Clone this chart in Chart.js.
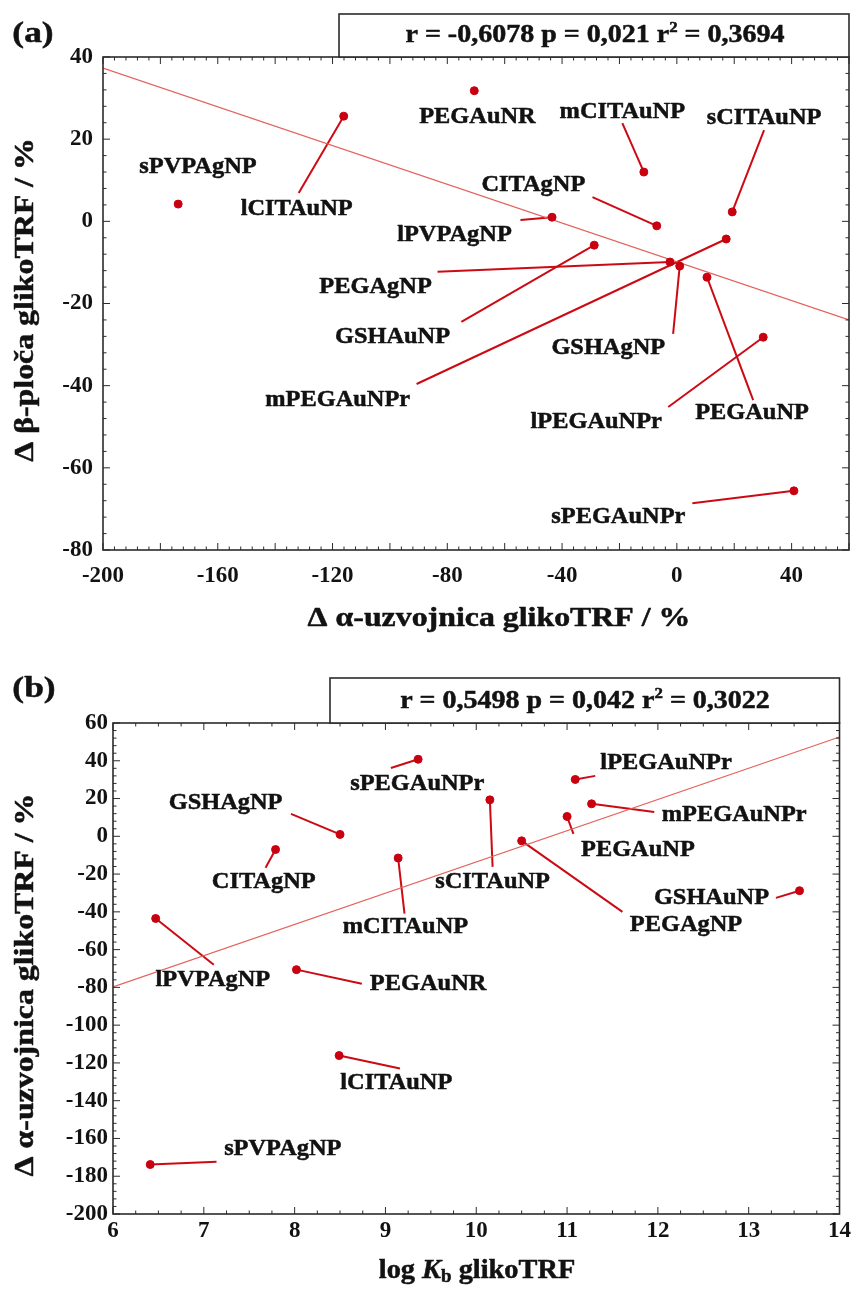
<!DOCTYPE html>
<html>
<head>
<meta charset="utf-8">
<script src="https://cdn.jsdelivr.net/npm/chart.js@4.4.1/dist/chart.umd.min.js"></script>
<style>
html, body { margin: 0; padding: 0; background: #fff; }
#wrap { position: relative; width: 854px; height: 1295px; }
canvas { position: absolute; left: 0; }
#chartA { top: 0; }
#chartB { top: 650px; }
</style>
</head>
<body>
<div id="wrap">
  <canvas id="chartA" width="854" height="650"></canvas>
  <canvas id="chartB" width="854" height="645"></canvas>
</div>
<script>
// Nanoparticle samples and measured changes
const samples = ['sPVPAgNP', 'lCITAuNP', 'PEGAuNR', 'mCITAuNP', 'sCITAuNP', 'CITAgNP', 'lPVPAgNP',
                 'GSHAuNP', 'mPEGAuNPr', 'PEGAgNP', 'GSHAgNP', 'PEGAuNP', 'lPEGAuNPr', 'sPEGAuNPr'];
const dAlpha = [-173.8, -116.1, -70.6, -11.5, 19.3, -7.0, -43.5, -28.8, 17.2, -2.4, 1.0, 10.5, 30.1, 40.8];
const dBeta  = [4.2, 25.6, 31.8, 12.0, 2.3, -1.1, 1.0, -5.8, -4.3, -9.9, -10.9, -13.6, -28.2, -65.6];
const logKb  = [6.41, 8.49, 8.02, 9.14, 10.15, 7.79, 6.47, 13.56, 11.27, 10.5, 8.5, 11.0, 11.09, 9.36];

// regression lines (end points)
const trendAX = [-200, 60];
const trendAY = [37.3, -24.0];
const trendBX = [6, 14];
const trendBY = [-79.7, 52.6];

// label anchors (data units) and leader line ends, panel (a)
const labAX  = [-166.9, -132.5, -69.5, -19.0, 30.4, -50.0, -77.5, -99.1, -118.2, -105.0, -23.9, 26.2, -28.1, -20.4];
const labAY  = [13.2, 3.0, 25.4, 26.6, 25.1, 8.8, -3.3, -28.2, -43.6, -16.0, -30.8, -46.7, -48.9, -72.0];
const leadAX = [null, -131.8, null, -19.0, 30.4, -29.4, -54.5, -75.1, -90.7, -83.4, -1.3, 26.6, -3.0, 5.4];
const leadAY = [null, 6.9, null, 23.9, 22.2, 5.9, 0.3, -24.5, -39.6, -12.3, -27.4, -43.5, -45.2, -68.6];

// panel (b)
const labBX  = [7.87, 9.12, 9.47, 9.22, 10.18, 7.66, 7.10, 12.59, 12.84, 12.31, 7.24, 11.78, 12.09, 9.35];
const labBY  = [-165.4, -130.5, -78.1, -47.9, -24.1, -24.1, -76.0, -32.6, 11.3, -46.9, 17.7, -7.2, 38.8, 27.7];
const leadBX = [7.14, 9.16, 8.74, 9.21, 10.18, 7.68, 7.11, 13.30, 11.96, 11.61, 7.96, 11.07, 11.31, 9.06];
const leadBY = [-172.3, -123.0, -78.1, -41.0, -16.2, -16.6, -68.0, -32.6, 12.9, -40.0, 11.9, 1.3, 32.0, 36.2];

const FONT = '"Liberation Serif", "Times New Roman", serif';
const INK = '#121212';
const DOT = '#c8000f';
const LEAD = '#cc0a14';
const TREND = '#e4625c';

function drawRuns(ctx, runs, cx, cy, sx, rot) {
    ctx.save();
    ctx.translate(cx, cy);
    if (rot) ctx.rotate(-Math.PI / 2);
    ctx.scale(sx, 1);
    ctx.textBaseline = 'middle';
    ctx.textAlign = 'left';
    ctx.fillStyle = INK;
    ctx.strokeStyle = INK;
    ctx.lineWidth = 0.5;
    ctx.lineJoin = 'round';
    let total = 0;
    runs.forEach(r => { ctx.font = r.font; total += ctx.measureText(r.t).width; });
    let x = -total / 2;
    runs.forEach(r => {
        ctx.font = r.font;
        ctx.fillText(r.t, x, r.dy || 0);
        ctx.strokeText(r.t, x, r.dy || 0);
        x += ctx.measureText(r.t).width;
    });
    ctx.restore();
}

function decorPlugin(cfg) {
    return {
        id: 'decor' + cfg.id,
        beforeDatasetsDraw(chart) {
            const { ctx, scales: { x, y } } = chart;
            // leader lines
            ctx.save();
            ctx.strokeStyle = LEAD;
            ctx.lineWidth = 2;
            cfg.xs.forEach((v, i) => {
                if (cfg.leadX[i] === null) return;
                ctx.beginPath();
                ctx.moveTo(x.getPixelForValue(v), y.getPixelForValue(cfg.ys[i]));
                ctx.lineTo(x.getPixelForValue(cfg.leadX[i]), y.getPixelForValue(cfg.leadY[i]));
                ctx.stroke();
            });
            ctx.restore();
        },
        afterDraw(chart) {
            const { ctx, chartArea: a, scales: { x, y } } = chart;
            ctx.save();
            // point labels
            cfg.labX.forEach((v, i) => {
                drawRuns(ctx, [{ t: cfg.names[i], font: 'bold 23px ' + FONT }],
                    x.getPixelForValue(v), y.getPixelForValue(cfg.labY[i]), 1.06, false);
            });

            // frame and inward ticks
            ctx.strokeStyle = '#2b2b2b';
            ctx.lineWidth = 1.6;
            ctx.strokeRect(a.left, a.top, a.right - a.left, a.bottom - a.top);
            ctx.lineWidth = 1;
            const eps = 1e-6;
            for (let v = x.min; v <= x.max + eps; v += cfg.xMinor) {
                const p = x.getPixelForValue(v);
                const major = Math.abs(v / cfg.xMajor - Math.round(v / cfg.xMajor)) < 1e-4;
                const len = major ? 7 : 3.5;
                ctx.beginPath();
                ctx.moveTo(p, a.bottom); ctx.lineTo(p, a.bottom - len);
                ctx.moveTo(p, a.top); ctx.lineTo(p, a.top + len);
                ctx.stroke();
            }
            for (let v = y.min; v <= y.max + eps; v += cfg.yMinor) {
                const p = y.getPixelForValue(v);
                const major = Math.abs(v / cfg.yMajor - Math.round(v / cfg.yMajor)) < 1e-4;
                const len = major ? 7 : 3.5;
                ctx.beginPath();
                ctx.moveTo(a.left, p); ctx.lineTo(a.left + len, p);
                ctx.moveTo(a.right, p); ctx.lineTo(a.right - len, p);
                ctx.stroke();
            }

            // statistics box
            ctx.fillStyle = '#fff';
            ctx.fillRect(cfg.boxLeft, cfg.boxTop, a.right - cfg.boxLeft, a.top - cfg.boxTop);
            ctx.strokeStyle = '#2b2b2b';
            ctx.lineWidth = 1.6;
            ctx.strokeRect(cfg.boxLeft, cfg.boxTop, a.right - cfg.boxLeft, a.top - cfg.boxTop);
            const sf = 'bold 25px ' + FONT;
            drawRuns(ctx, [
                { t: cfg.stats[0], font: sf },
                { t: '2', font: 'bold 15px ' + FONT, dy: -8 },
                { t: cfg.stats[1], font: sf }
            ], cfg.statsX, cfg.statsY, 1.12, false);

            // panel letter and axis titles
            drawRuns(ctx, [{ t: cfg.panel, font: 'bold 30px ' + FONT }], cfg.panelX, cfg.panelY, 1.18, false);
            drawRuns(ctx, cfg.xTitle, cfg.xTitleX, cfg.xTitleY, cfg.xTitleStretch, false);
            drawRuns(ctx, cfg.yTitle, cfg.yTitleX, cfg.yTitleY, 1.18, true);
            ctx.restore();
        }
    };
}

function makeChart(cfg) {
    const tickFont = { family: FONT, size: 23, weight: 'bold' };
    return new Chart(document.getElementById(cfg.id), {
        type: 'scatter',
        data: {
            datasets: [
                {
                    type: 'line',
                    data: cfg.trendX.map((v, i) => ({ x: v, y: cfg.trendY[i] })),
                    borderColor: TREND,
                    borderWidth: 1.2,
                    pointRadius: 0,
                    fill: false,
                    tension: 0,
                    order: 2
                },
                {
                    data: cfg.xs.map((v, i) => ({ x: v, y: cfg.ys[i] })),
                    backgroundColor: DOT,
                    borderColor: DOT,
                    pointRadius: 4,
                    pointHoverRadius: 4,
                    order: 1
                }
            ]
        },
        options: {
            responsive: false,
            animation: false,
            devicePixelRatio: 1,
            layout: { padding: cfg.padding },
            plugins: { legend: { display: false }, tooltip: { enabled: false } },
            scales: {
                x: {
                    type: 'linear',
                    min: cfg.xMin, max: cfg.xMax,
                    grid: { display: false, drawTicks: false },
                    border: { display: false },
                    ticks: {
                        stepSize: cfg.xStep, includeBounds: false, autoSkip: false, maxRotation: 0,
                        padding: cfg.xTickPad, font: tickFont, color: INK,
                        callback: v => String(v)
                    },
                    afterFit: s => { s.height = cfg.xAxisH; }
                },
                y: {
                    type: 'linear',
                    min: cfg.yMin, max: cfg.yMax,
                    grid: { display: false, drawTicks: false },
                    border: { display: false },
                    ticks: {
                        stepSize: cfg.yStep, includeBounds: false, autoSkip: false,
                        padding: cfg.yTickPad, font: tickFont, color: INK,
                        callback: v => String(v)
                    },
                    afterFit: s => { s.width = cfg.yAxisW; }
                }
            }
        },
        plugins: [decorPlugin(cfg)]
    });
}

const titleFont = 'bold 27px ' + FONT;
const alphaTitle = [{ t: '\u0394 \u03b1-uzvojnica glikoTRF / %', font: titleFont }];

makeChart({
    id: 'chartA', names: samples, xs: dAlpha, ys: dBeta,
    trendX: trendAX, trendY: trendAY,
    labX: labAX, labY: labAY, leadX: leadAX, leadY: leadAY,
    xMin: -200, xMax: 60, xStep: 40, xMinor: 4, xMajor: 20,
    yMin: -80, yMax: 40, yStep: 20, yMinor: 4, yMajor: 20,
    padding: { top: 57, right: 4, left: 0, bottom: 0 },
    yAxisW: 103, xAxisH: 100, xTickPad: 12, yTickPad: 10,
    boxLeft: 339, boxTop: 14,
    stats: ['r = -0,6078 p = 0,021 r', ' = 0,3694'], statsX: 595, statsY: 36,
    panel: '(a)', panelX: 33, panelY: 34,
    xTitle: alphaTitle, xTitleX: 499, xTitleY: 619, xTitleStretch: 1.18,
    yTitle: [{ t: '\u0394 \u03b2-plo\u010da glikoTRF / %', font: titleFont }], yTitleX: 26, yTitleY: 300
});

makeChart({
    id: 'chartB', names: samples, xs: logKb, ys: dAlpha,
    trendX: trendBX, trendY: trendBY,
    labX: labBX, labY: labBY, leadX: leadBX, leadY: leadBY,
    xMin: 6, xMax: 14, xStep: 1, xMinor: 0.25, xMajor: 1,
    yMin: -200, yMax: 60, yStep: 20, yMinor: 4, yMajor: 20,
    padding: { top: 73, right: 14, left: 0, bottom: 0 },
    yAxisW: 113, xAxisH: 81, xTickPad: 3, yTickPad: 5,
    boxLeft: 330, boxTop: 28,
    stats: ['r = 0,5498 p = 0,042 r', ' = 0,3022'], statsX: 585, statsY: 52,
    panel: '(b)', panelX: 34, panelY: 39,
    xTitle: [
        { t: 'log ', font: titleFont },
        { t: 'K', font: 'italic bold 27px ' + FONT },
        { t: 'b', font: 'bold 18px ' + FONT, dy: 6 },
        { t: ' glikoTRF', font: titleFont }
    ], xTitleX: 477, xTitleY: 621, xTitleStretch: 1.05,
    yTitle: alphaTitle, yTitleX: 26, yTitleY: 335
});
</script>
</body>
</html>
